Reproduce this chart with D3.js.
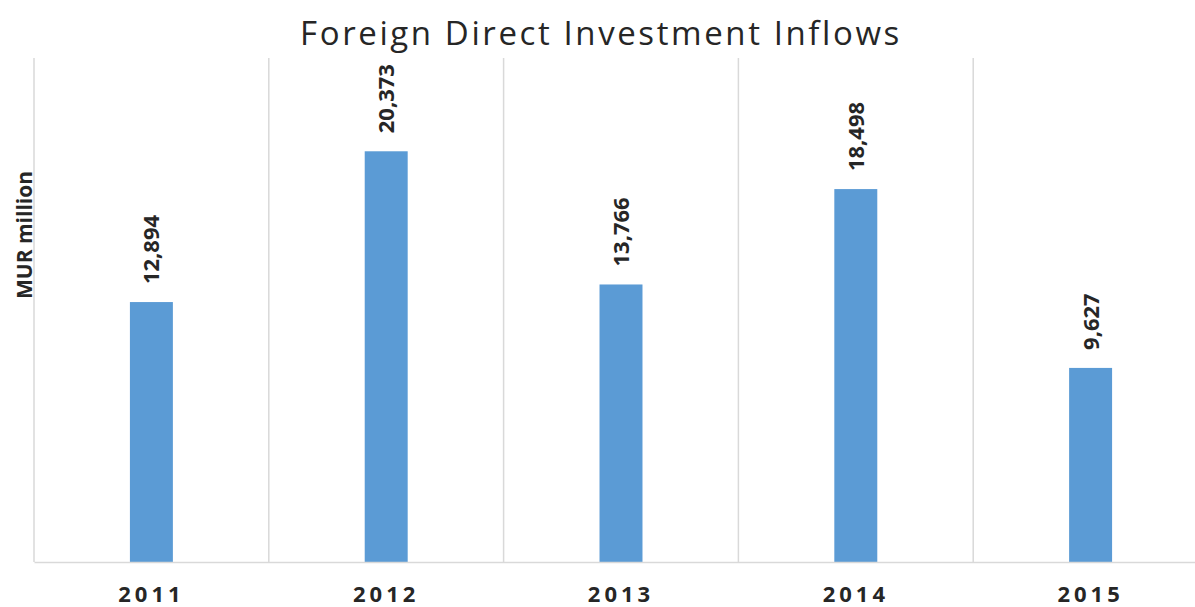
<!DOCTYPE html>
<html>
<head>
<meta charset="utf-8">
<script src="https://cdn.jsdelivr.net/npm/d3@7"></script>
<style>
  body { margin: 0; background: #fff; }
  svg text { font-family: "Open Sans", "Noto Sans", sans-serif; fill: #262626; }
</style>
</head>
<body>
<div id="chart"></div>
<script>
// Chart data
const years = ["2011", "2012", "2013", "2014", "2015"];
const inflows = [12894, 20373, 13766, 18498, 9627];
const yMax = 25000;

const width = 1195;
const height = 607;
const margin = { top: 58, right: -13, bottom: 45, left: 34 };

const svg = d3.select("#chart")
  .append("svg")
  .attr("width", width)
  .attr("height", height);

// Scales
const x = d3.scaleBand()
  .domain(years)
  .range([margin.left, width - margin.right])
  .paddingInner(0)
  .paddingOuter(0);

const y = d3.scaleLinear()
  .domain([0, yMax])
  .range([height - margin.bottom, margin.top]);

// Vertical category separators
const edges = years.map(d => x(d)).concat([x(years[years.length - 1]) + x.bandwidth()]);
svg.selectAll("line.sep")
  .data(edges)
  .enter()
  .append("line")
  .attr("class", "sep")
  .attr("x1", d => d)
  .attr("x2", d => d)
  .attr("y1", y(yMax))
  .attr("y2", y(0))
  .attr("stroke", "#d9d9d9")
  .attr("stroke-width", 1.5);

// Bars
const barW = x.bandwidth() * 0.183;
svg.selectAll("rect.bar")
  .data(inflows)
  .enter()
  .append("rect")
  .attr("class", "bar")
  .attr("x", (d, i) => x(years[i]) + x.bandwidth() / 2 - barW / 2)
  .attr("y", d => y(d))
  .attr("width", barW)
  .attr("height", d => y(0) - y(d))
  .attr("fill", "#5b9bd5");

// X axis
const xAxis = svg.append("g")
  .attr("transform", `translate(0,${y(0)})`)
  .call(d3.axisBottom(x).tickSize(0).tickPadding(24));
xAxis.select(".domain").attr("stroke", "#d9d9d9").attr("stroke-width", 1.5);
xAxis.selectAll("text")
  .attr("font-size", "22px")
  .attr("font-weight", "bold")
  .attr("letter-spacing", "4px")
  .style("font-family", "'Open Sans', sans-serif")
  .attr("fill", "#262626");

// Value labels
svg.selectAll("text.val")
  .data(inflows)
  .enter()
  .append("text")
  .attr("class", "val")
  .attr("transform", (d, i) =>
    `translate(${x(years[i]) + x.bandwidth() / 2 + 8},${y(d) - 18}) rotate(-90)`)
  .attr("font-size", "22px")
  .attr("font-weight", "bold")
  .text(d => d3.format(",")(d));

// Y axis title
svg.append("text")
  .attr("transform", `translate(32,235) rotate(-90)`)
  .attr("text-anchor", "middle")
  .attr("font-size", "21px")
  .attr("font-weight", "bold")
  .text("MUR million");

// Chart title
svg.append("text")
  .attr("x", 601)
  .attr("y", 45)
  .attr("text-anchor", "middle")
  .attr("font-size", "33px")
  .attr("letter-spacing", "2.6px")
  .attr("fill", "#262626")
  .text("Foreign Direct Investment Inflows");
</script>
</body>
</html>
